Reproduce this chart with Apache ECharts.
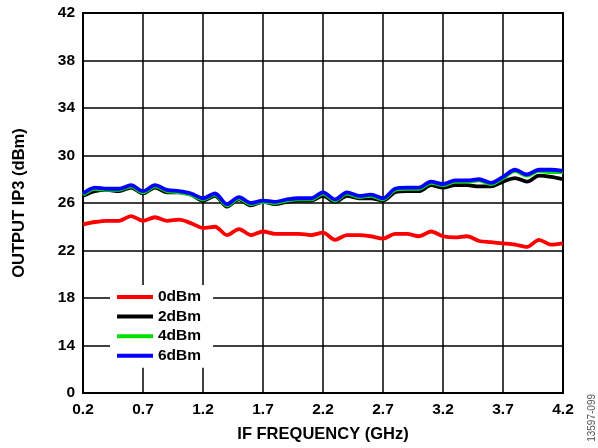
<!DOCTYPE html>
<html>
<head>
<meta charset="utf-8">
<script src="https://cdn.jsdelivr.net/npm/echarts@6/dist/echarts.min.js"></script>
<style>
  html, body { margin: 0; padding: 0; background: #fff; }
  #main { width: 598px; height: 448px; }
</style>
</head>
<body>
<div id="main"></div>
<script>
// IF frequency (GHz)
var freq = [0.2, 0.3, 0.4, 0.5, 0.6, 0.7, 0.8, 0.9, 1.0, 1.1, 1.2, 1.3, 1.4, 1.5, 1.6, 1.7, 1.8, 1.9, 2.0, 2.1,
            2.2, 2.3, 2.4, 2.5, 2.6, 2.7, 2.8, 2.9, 3.0, 3.1, 3.2, 3.3, 3.4, 3.5, 3.6, 3.7, 3.8, 3.9, 4.0, 4.1, 4.2];

// output IP3 (dBm) per LO drive level
var ip3_0dBm = [24.2, 24.4, 24.5, 24.5, 24.9, 24.5, 24.8, 24.5, 24.6, 24.3, 23.9, 24.0, 23.3, 23.8, 23.3, 23.6, 23.4, 23.4, 23.4, 23.3,
                23.5, 22.9, 23.3, 23.3, 23.2, 23.0, 23.4, 23.4, 23.2, 23.6, 23.2, 23.1, 23.2, 22.8, 22.7, 22.6, 22.5, 22.3, 22.9, 22.5, 22.6];
var ip3_2dBm = [26.6, 27.0, 27.1, 27.0, 27.3, 26.8, 27.3, 26.9, 26.9, 26.7, 26.2, 26.6, 25.7, 26.3, 25.8, 26.1, 25.9, 26.1, 26.2, 26.2,
                26.6, 26.1, 26.6, 26.4, 26.4, 26.2, 26.9, 27.0, 27.0, 27.5, 27.3, 27.5, 27.5, 27.4, 27.4, 27.8, 28.1, 27.8, 28.3, 28.2, 28.0];
var ip3_4dBm = [26.7, 27.2, 27.1, 27.1, 27.4, 26.9, 27.4, 27.0, 26.9, 26.7, 26.3, 26.7, 25.8, 26.4, 25.9, 26.1, 26.0, 26.2, 26.3, 26.3,
                26.8, 26.2, 26.8, 26.5, 26.6, 26.3, 27.1, 27.2, 27.2, 27.7, 27.5, 27.8, 27.8, 27.9, 27.6, 28.1, 28.7, 28.3, 28.7, 28.6, 28.6];
var ip3_6dBm = [26.8, 27.3, 27.2, 27.2, 27.5, 27.0, 27.5, 27.1, 27.0, 26.8, 26.4, 26.8, 25.9, 26.5, 26.0, 26.2, 26.1, 26.3, 26.4, 26.4,
                26.9, 26.3, 26.9, 26.6, 26.7, 26.4, 27.2, 27.3, 27.3, 27.8, 27.6, 27.9, 27.9, 28.0, 27.7, 28.2, 28.8, 28.4, 28.8, 28.8, 28.7];

var seriesNames = ['0dBm', '2dBm', '4dBm', '6dBm'];
var seriesColors = ['#ff0000', '#000000', '#00e000', '#0000ff'];
var seriesData = [ip3_0dBm, ip3_2dBm, ip3_4dBm, ip3_6dBm];

function pairs(ys) {
    return freq.map(function (f, i) { return [f, ys[i]]; });
}

var myChart = echarts.init(document.getElementById('main'));

var FONT = 'Liberation Sans, Arial';
var tickFont = { color: '#000', fontFamily: FONT, fontWeight: 'bold', fontSize: 15.5 };
var titleFont = { color: '#000', fontFamily: FONT, fontWeight: 'bold', fontSize: 16.5 };

var option = {
    animation: false,
    backgroundColor: '#fff',
    grid: {
        left: 83, right: 35, top: 13, bottom: 52,
        show: true, borderColor: '#000', borderWidth: 2, backgroundColor: 'transparent'
    },
    legend: {
        orient: 'vertical',
        left: 110, top: 285,
        data: seriesNames,
        icon: 'rect',
        itemWidth: 36, itemHeight: 4, itemGap: 3.6,
        backgroundColor: '#fff',
        padding: [4, 12, 4, 7],
        textStyle: { color: '#000', fontFamily: FONT, fontWeight: 'bold', fontSize: 15.5, lineHeight: 15 }
    },
    xAxis: {
        type: 'value',
        min: 0.2, max: 4.2, interval: 0.5,
        name: 'IF FREQUENCY (GHz)',
        nameLocation: 'middle', nameGap: 33,
        nameTextStyle: titleFont,
        axisLine: { show: false },
        axisTick: { show: false },
        axisLabel: Object.assign({ margin: 9, formatter: function (v) { return v.toFixed(1); } }, tickFont),
        splitLine: { show: true, lineStyle: { color: '#000', width: 1.5 } }
    },
    yAxis: {
        type: 'value',
        min: 10, max: 42, interval: 4,
        name: 'OUTPUT IP3 (dBm)',
        nameLocation: 'middle', nameGap: 55,
        nameTextStyle: titleFont,
        axisLine: { show: false },
        axisTick: { show: false },
        axisLabel: Object.assign({ margin: 8, formatter: function (v) { return v === 10 ? '0' : String(v); } }, tickFont),
        splitLine: { show: true, lineStyle: { color: '#000', width: 1.5 } }
    },
    graphic: [{
        type: 'text',
        left: 587, top: 394,
        rotation: Math.PI / 2,
        style: { text: '13597-099', fill: '#555', font: '10px Liberation Sans, Arial' }
    }],
    series: seriesNames.map(function (name, i) {
        return {
            name: name,
            type: 'line',
            data: pairs(seriesData[i]),
            smooth: 0.3,
            showSymbol: false,
            color: seriesColors[i],
            lineStyle: { color: seriesColors[i], width: 3.8 },
            z: 2 + i
        };
    })
};

myChart.setOption(option);
</script>
</body>
</html>
